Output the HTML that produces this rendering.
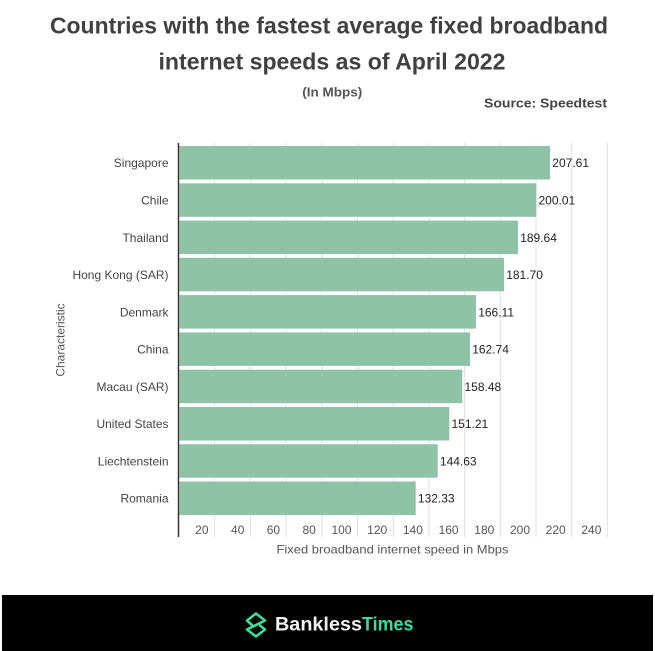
<!DOCTYPE html>
<html>
<head>
<meta charset="utf-8">
<style>
html,body{margin:0;padding:0;background:#fff;}
svg{display:block;}
text{font-family:"Liberation Sans",Arial,sans-serif;}
</style>
</head>
<body>
<svg width="655" height="651" viewBox="0 0 655 651" xmlns="http://www.w3.org/2000/svg">
<rect x="0" y="0" width="655" height="651" fill="#fff"/>
<!-- Title -->
<text x="329" y="33.3" font-size="23" font-weight="bold" fill="#404040" text-anchor="middle" textLength="558" lengthAdjust="spacingAndGlyphs">Countries with the fastest average fixed broadband</text>
<text x="332" y="69.3" font-size="23" font-weight="bold" fill="#404040" text-anchor="middle" textLength="347" lengthAdjust="spacingAndGlyphs">internet speeds as of April 2022</text>
<text x="332.3" y="96.7" font-size="13" font-weight="bold" fill="#555" text-anchor="middle" textLength="60" lengthAdjust="spacingAndGlyphs">(In Mbps)</text>
<text x="484" y="107.7" font-size="13" font-weight="bold" fill="#444" textLength="123" lengthAdjust="spacingAndGlyphs">Source: Speedtest</text>

<!-- gridlines -->
<g stroke="#e2e2e2" stroke-width="1">
<line x1="214.7" y1="143" x2="214.7" y2="537"/>
<line x1="250.4" y1="143" x2="250.4" y2="537"/>
<line x1="286.1" y1="143" x2="286.1" y2="537"/>
<line x1="321.8" y1="143" x2="321.8" y2="537"/>
<line x1="357.5" y1="143" x2="357.5" y2="537"/>
<line x1="393.2" y1="143" x2="393.2" y2="537"/>
<line x1="428.9" y1="143" x2="428.9" y2="537"/>
<line x1="464.6" y1="143" x2="464.6" y2="537"/>
<line x1="500.3" y1="143" x2="500.3" y2="537"/>
<line x1="536" y1="143" x2="536" y2="537"/>
<line x1="571.7" y1="143" x2="571.7" y2="537"/>
<line x1="607.4" y1="143" x2="607.4" y2="537"/>
</g>

<!-- bars -->
<g fill="#8ec3a7">
<rect x="179.5" y="146" width="370.5" height="33.5"/>
<rect x="179.5" y="183.3" width="356.8" height="33.5"/>
<rect x="179.5" y="220.6" width="338.5" height="33.5"/>
<rect x="179.5" y="257.8" width="324.5" height="33.5"/>
<rect x="179.5" y="295.1" width="296.5" height="33.5"/>
<rect x="179.5" y="332.4" width="290.5" height="33.5"/>
<rect x="179.5" y="369.7" width="282.8" height="33.5"/>
<rect x="179.5" y="407" width="269.8" height="33.5"/>
<rect x="179.5" y="444.2" width="258.2" height="33.5"/>
<rect x="179.5" y="481.5" width="236.2" height="33.5"/>
</g>

<!-- axis line -->
<line x1="178.5" y1="143" x2="178.5" y2="537" stroke="#333" stroke-width="1.5"/>

<!-- value labels -->
<g font-size="12" fill="#222">
<text x="552.3" y="167.2">207.61</text>
<text x="538.5" y="204.5">200.01</text>
<text x="520.2" y="241.8">189.64</text>
<text x="506.2" y="279">181.70</text>
<text x="478.2" y="316.3">166.11</text>
<text x="472.2" y="353.6">162.74</text>
<text x="464.5" y="390.9">158.48</text>
<text x="451.5" y="428.2">151.21</text>
<text x="439.9" y="465.4">144.63</text>
<text x="417.9" y="502.7">132.33</text>
</g>

<!-- category labels -->
<g font-size="12" fill="#444" text-anchor="end">
<text x="168.5" y="167.2">Singapore</text>
<text x="168.5" y="204.5">Chile</text>
<text x="168.5" y="241.8">Thailand</text>
<text x="168.5" y="279">Hong Kong (SAR)</text>
<text x="168.5" y="316.3">Denmark</text>
<text x="168.5" y="353.6">China</text>
<text x="168.5" y="390.9">Macau (SAR)</text>
<text x="168.5" y="428.2">United States</text>
<text x="168.5" y="465.4">Liechtenstein</text>
<text x="168.5" y="502.7">Romania</text>
</g>

<!-- y axis title -->
<text transform="translate(64.5,340) rotate(-90)" font-size="12" fill="#555" text-anchor="middle">Characteristic</text>

<!-- tick labels -->
<g font-size="12" fill="#555" text-anchor="end">
<text x="208.5" y="534">20</text>
<text x="244.4" y="534">40</text>
<text x="280.1" y="534">60</text>
<text x="315.8" y="534">80</text>
<text x="351.5" y="534">100</text>
<text x="387.2" y="534">120</text>
<text x="422.9" y="534">140</text>
<text x="458.6" y="534">160</text>
<text x="494.3" y="534">180</text>
<text x="530" y="534">200</text>
<text x="565.7" y="534">220</text>
<text x="601.4" y="534">240</text>
</g>

<!-- x axis title -->
<text x="392.5" y="553.3" font-size="12" fill="#555" text-anchor="middle" textLength="232" lengthAdjust="spacingAndGlyphs">Fixed broadband internet speed in Mbps</text>

<!-- footer -->
<rect x="2" y="595" width="651" height="56" fill="#000"/>
<path d="M252,625 L247,620.5 L256,613.5 L265,620.5 L247,629.5 L256,636.5 L265,629.5 L260,625.5" fill="none" stroke="#3ddc9a" stroke-width="2.6" stroke-linejoin="round" stroke-linecap="round"/>
<text x="275" y="630.5" font-size="19" font-weight="bold" fill="#f2f2f2" textLength="87" lengthAdjust="spacingAndGlyphs">Bankless</text>
<text x="362" y="630.5" font-size="19" font-weight="bold" fill="#3ddc9a" textLength="51.5" lengthAdjust="spacingAndGlyphs">Times</text>
</svg>
</body>
</html>
